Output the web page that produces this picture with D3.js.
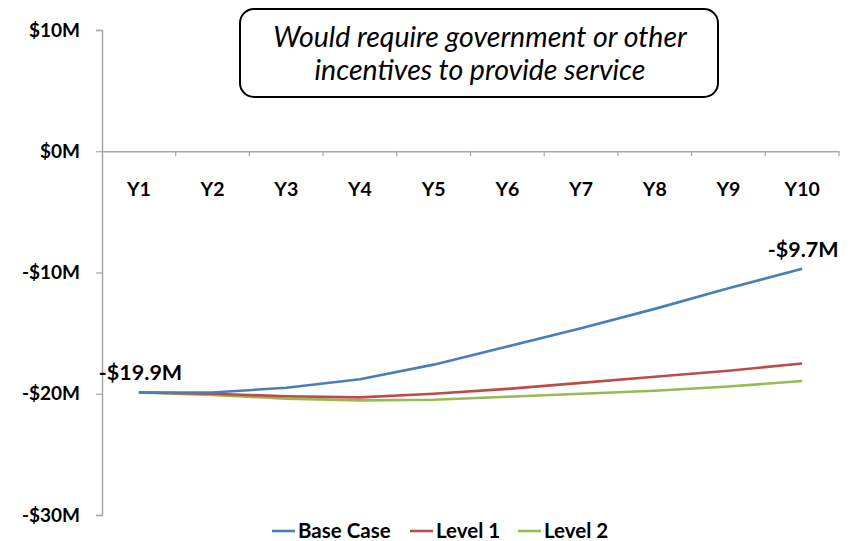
<!DOCTYPE html>
<html>
<head>
<meta charset="utf-8">
<script src="https://cdn.jsdelivr.net/npm/d3@7"></script>
<style>
  html, body { margin: 0; padding: 0; background: #fff; }
  svg { display: block; font-family: Lato, "Open Sans", sans-serif; }
</style>
</head>
<body>
<svg id="chart" width="854" height="541"></svg>
<script>
// Years of the projection
const years = ["Y1", "Y2", "Y3", "Y4", "Y5", "Y6", "Y7", "Y8", "Y9", "Y10"];

// Cumulative position per scenario, $M
const baseCase = [-19.9, -19.9, -19.5, -18.8, -17.6, -16.1, -14.6, -13.0, -11.3, -9.7];
const level1   = [-19.9, -20.0, -20.2, -20.3, -20.0, -19.6, -19.1, -18.6, -18.1, -17.5];
const level2   = [-19.9, -20.1, -20.4, -20.55, -20.5, -20.25, -20.0, -19.75, -19.4, -18.95];

const seriesNames = ["Base Case", "Level 1", "Level 2"];
const seriesColors = ["#4a7ebb", "#be4b48", "#98b954"];
const yTicks = [10, 0, -10, -20, -30];

const noteLines = ["Would require government or other", "incentives to provide service"];

const series = [baseCase, level1, level2].map((v, i) => ({
  name: seriesNames[i], color: seriesColors[i], values: v
}));

const svg = d3.select("#chart");

const x = d3.scaleBand().domain(years).range([102, 839]);
const y = d3.scaleLinear().domain([-30, 10]).range([515, 30]);

const fmt = v => (v < 0 ? "-$" : "$") + Math.abs(v) + "M";

// Value axis
const yAxis = svg.append("g")
  .attr("transform", "translate(102,0)")
  .call(d3.axisLeft(y).tickValues(yTicks).tickSize(6).tickPadding(16).tickFormat(fmt));
yAxis.select(".domain").attr("stroke", "#a6a6a6").attr("stroke-width", 1.5);
yAxis.selectAll(".tick line").attr("stroke", "#a6a6a6").attr("stroke-width", 1.2);
yAxis.selectAll(".tick text")
  .attr("font-family", "Lato, sans-serif").attr("font-weight", "bold")
  .attr("font-size", 19).attr("fill", "#000");

// Category axis at zero
const xAxis = svg.append("g")
  .attr("transform", `translate(0,${y(0)})`)
  .call(d3.axisBottom(x).tickSize(0).tickPadding(31));
xAxis.select(".domain").attr("stroke", "#a6a6a6").attr("stroke-width", 1.5);
xAxis.selectAll(".tick text")
  .attr("font-family", "Lato, sans-serif").attr("font-weight", "bold")
  .attr("font-size", 19.5).attr("fill", "#000");

// Category separator ticks
const bounds = years.slice(1).map(d => x(d)).concat([x.range()[1]]);
svg.append("g").selectAll("line").data(bounds).join("line")
  .attr("x1", d => d).attr("x2", d => d)
  .attr("y1", y(0)).attr("y2", y(0) + 5)
  .attr("stroke", "#a6a6a6").attr("stroke-width", 1.2);

// Scenario lines
const line = d3.line()
  .x((d, i) => x(years[i]) + x.bandwidth() / 2)
  .y(d => y(d));

svg.append("g").selectAll("path").data(series.slice().reverse()).join("path")
  .attr("d", d => line(d.values))
  .attr("fill", "none")
  .attr("stroke", d => d.color)
  .attr("stroke-width", 2.6)
  .attr("stroke-linejoin", "round");

// Start and end value labels
const labelStyle = sel => sel
  .attr("font-family", "Lato, sans-serif").attr("font-weight", "bold")
  .attr("font-size", 21.5).attr("fill", "#000");

svg.append("text")
  .attr("x", x(years[0]) + x.bandwidth() / 2 - 40)
  .attr("y", y(baseCase[0]) - 13)
  .text("-$" + Math.abs(baseCase[0]) + "M")
  .call(labelStyle);

svg.append("text")
  .attr("x", x(years[9]) + x.bandwidth() / 2 + 1)
  .attr("y", y(baseCase[9]) - 12)
  .attr("text-anchor", "middle")
  .text("-$" + Math.abs(baseCase[9]) + "M")
  .call(labelStyle);

// Note box
svg.append("rect")
  .attr("x", 240).attr("y", 9).attr("width", 478).attr("height", 88)
  .attr("rx", 14).attr("ry", 14)
  .attr("fill", "#fff").attr("stroke", "#000").attr("stroke-width", 2);

svg.append("g").selectAll("text").data(noteLines).join("text")
  .attr("x", 480)
  .attr("y", (d, i) => 47 + i * 33)
  .attr("text-anchor", "middle")
  .attr("font-family", "Lato, sans-serif")
  .attr("font-style", "italic")
  .attr("font-size", 28.5)
  .attr("fill", "#000")
  .text(d => d);

// Legend
const legendX = [272, 410, 518];
const legend = svg.append("g").selectAll("g").data(series).join("g")
  .attr("transform", (d, i) => `translate(${legendX[i]},531)`);
legend.append("line")
  .attr("x1", 0).attr("x2", 23).attr("y1", 0).attr("y2", 0)
  .attr("stroke", d => d.color).attr("stroke-width", 2.6);
legend.append("text")
  .attr("x", 26).attr("y", 7)
  .attr("font-family", "Lato, sans-serif").attr("font-weight", "bold")
  .attr("font-size", 20.5).attr("fill", "#000")
  .text(d => d.name);
</script>
</body>
</html>
